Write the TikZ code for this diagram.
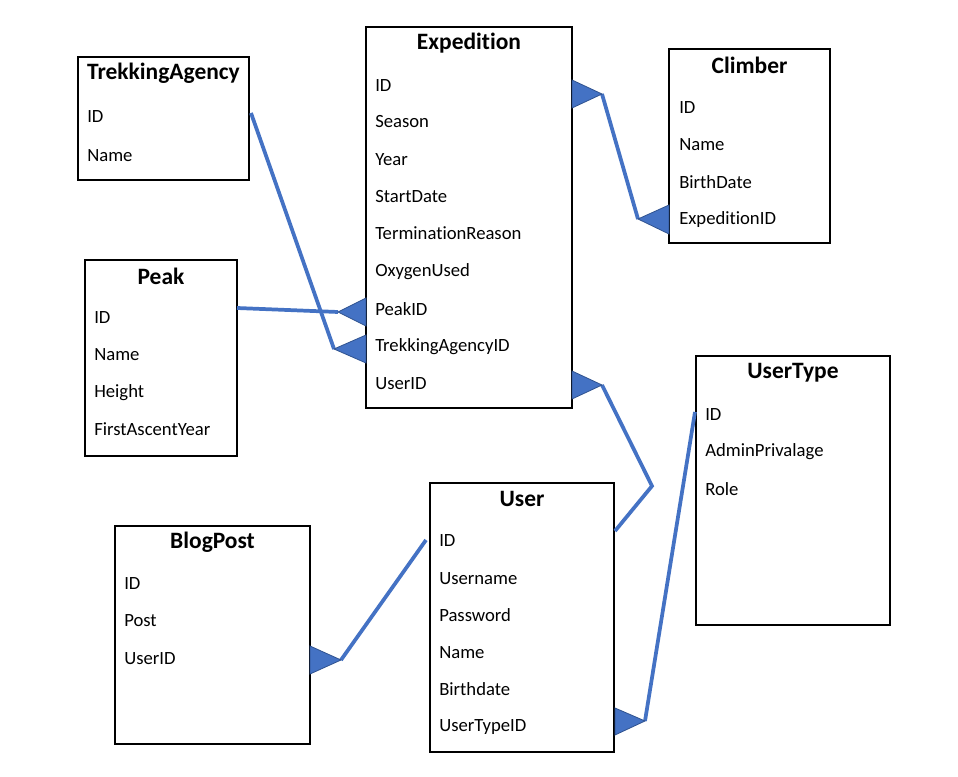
\documentclass[tikz,border=0pt]{standalone}
\usepackage{fontspec}
\setmainfont[Ligatures={NoCommon}]{Carlito}
\begin{document}
\begin{tikzpicture}[x=0.75pt,y=-0.75pt,
  box/.style={draw=black,line width=0.8pt},
  ttl/.style={font=\fontsize{17.6}{20}\selectfont\bfseries,anchor=center,inner sep=0pt,yshift=-0.75pt},
  fld/.style={font=\fontsize{14}{16}\selectfont,anchor=west,inner sep=0pt,yshift=-0.9pt},
  conn/.style={draw={rgb,255:red,68;green,114;blue,196},line width=2.8pt,line join=miter},
  tri/.style={fill={rgb,255:red,68;green,114;blue,196},draw={rgb,255:red,47;green,82;blue,143},line width=0.6pt,line join=miter}]
\useasboundingbox (0,0) rectangle (958,777);
\fill[white] (0,0) rectangle (958,777);

% Expedition
\draw[box] (366,27) rectangle (572,408);
\node[ttl] (expT) at (469,42) {Expedition};
\node[fld] (e1) at (375,84) {ID};
\node[fld] (e2) at (375,120) {Season};
\node[fld] (e3) at (375,158) {Year};
\node[fld] (e4) at (375,195) {StartDate};
\node[fld] (e5) at (375,232) {TerminationReason};
\node[fld] (e6) at (375,270) {OxygenUsed};
\node[fld] (e7) at (375,308) {PeakID};
\node[fld] (e8) at (375,345) {TrekkingAgencyID};
\node[fld] (e9) at (375,382) {UserID};

% Climber
\draw[box] (669,49) rectangle (830,243);
\node[ttl] (clT) at (749.5,64) {Climber};
\node[fld] (c1) at (679,106) {ID};
\node[fld] (c2) at (679,143) {Name};
\node[fld] (c3) at (679,181) {BirthDate};
\node[fld] (c4) at (679,218) {ExpeditionID};

% TrekkingAgency
\draw[box] (78,57) rectangle (249,180);
\node[ttl] (taT) at (163.5,72) {TrekkingAgency};
\node[fld] (t1) at (87,115) {ID};
\node[fld] (t2) at (87,154) {Name};

% Peak
\draw[box] (85,260) rectangle (237,456);
\node[ttl] (pkT) at (161,275) {Peak};
\node[fld] (p1) at (94,316) {ID};
\node[fld] (p2) at (94,353) {Name};
\node[fld] (p3) at (94,391) {Height};
\node[fld] (p4) at (94,428) {FirstAscentYear};

% UserType
\draw[box] (696,356) rectangle (890,625);
\node[ttl] (utT) at (793,372) {UserType};
\node[fld] (u1) at (705,413) {ID};
\node[fld] (u2) at (705,450) {AdminPrivalage};
\node[fld] (u3) at (705,488) {Role};

% User
\draw[box] (430,483) rectangle (614,752);
\node[ttl] (usT) at (522,498) {User};
\node[fld] (s1) at (439,539) {ID};
\node[fld] (s2) at (439,577) {Username};
\node[fld] (s3) at (439,614) {Password};
\node[fld] (s4) at (439,651) {Name};
\node[fld] (s5) at (439,688) {Birthdate};
\node[fld] (s6) at (439,726) {UserTypeID};

% BlogPost
\draw[box] (115,526) rectangle (310,744);
\node[ttl] (bpT) at (212.5,541) {BlogPost};
\node[fld] (b1) at (124,582) {ID};
\node[fld] (b2) at (124,619) {Post};
\node[fld] (b3) at (124,657) {UserID};

% connector points
\coordinate (a1) at (602,94);
\coordinate (a2) at (638,219);
\coordinate (a3) at (338,312);
\coordinate (a4) at (237,308);
\coordinate (a5) at (334,349);
\coordinate (a6) at (251,113);
\coordinate (a7) at (602,385);
\coordinate (a8) at (652,486);
\coordinate (a9) at (615,531);
\coordinate (a10) at (341,660);
\coordinate (a11) at (426,540);
\coordinate (a12) at (645,721);
\coordinate (a13) at (695,412);

\draw[conn] (a1) -- (a2);
\draw[conn] (a4) -- (a3);
\draw[conn] (a6) -- (a5);
\draw[conn] (a7) -- (a8) -- (a9);
\draw[conn] (a11) -- (a10);
\draw[conn] (a13) -- (a12);

\filldraw[tri] (572,80) -- (a1) -- (572,108) -- cycle;
\filldraw[tri] (669,205) -- (a2) -- (669,234) -- cycle;
\filldraw[tri] (366,298) -- (a3) -- (366,326) -- cycle;
\filldraw[tri] (366,335) -- (a5) -- (366,363) -- cycle;
\filldraw[tri] (572,371) -- (a7) -- (572,399) -- cycle;
\filldraw[tri] (310,646) -- (a10) -- (310,674) -- cycle;
\filldraw[tri] (615,708) -- (a12) -- (615,735) -- cycle;
\end{tikzpicture}
\end{document}
